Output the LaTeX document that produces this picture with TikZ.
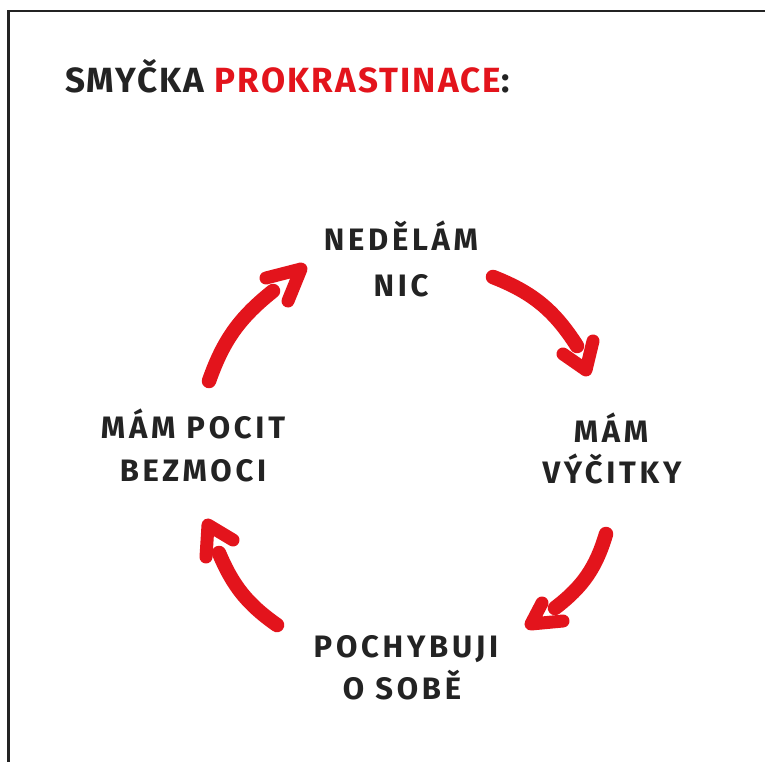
\documentclass[tikz,border=0pt]{standalone}
\usepackage{fontspec}
\newfontfamily\handfont[LetterSpace=12]{Fira Sans}
\newfontfamily\headfont[LetterSpace=6]{Fira Sans}
\definecolor{ink}{HTML}{232323}
\definecolor{loopred}{HTML}{E3141C}
\begin{document}
\begin{tikzpicture}[x=1pt,y=1pt,
  lbl/.style={anchor=base,inner sep=0pt,text=ink,font=\handfont\bfseries\fontsize{31}{31}\selectfont},
  ttl/.style={anchor=base west,inner sep=0pt,text=ink,font=\headfont\bfseries\fontsize{35}{35}\selectfont},
  shaft/.style={draw=loopred,line width=14.5pt,line cap=round},
  chev/.style={draw=loopred,line width=13pt,line cap=round,line join=round}]
\useasboundingbox (0,0) rectangle (765,-762);
\fill[white] (0,0) rectangle (765,-762);
% frame (only the top and left edges fall inside the sheet)
\draw[ink,line width=2.5pt] (765,-10.8) -- (8.7,-10.8) -- (8.7,-762);

% heading
\node[ttl] (title) at (65,-93) {SMYČKA \textcolor{loopred}{PROKRASTINACE}:};

% the four stages
\node[lbl] (n1a) at (401,-250) {NEDĚLÁM};
\node[lbl] (n1b) at (401,-296) {NIC};
\node[lbl] (n2a) at (611,-442) {MÁM};
\node[lbl] (n2b) at (612,-483) {VÝČITKY};
\node[lbl] (n3a) at (406,-657) {POCHYBUJI};
\node[lbl] (n3b) at (402,-699) {O SOBĚ};
\node[lbl] (n4a) at (193,-438) {MÁM POCIT};
\node[lbl] (n4b) at (193,-481) {BEZMOCI};

% arrow 1: top -> right
\coordinate (a1s) at (493,-277);
\coordinate (a1e) at (577,-346);
\coordinate (a1l) at (563,-354);
\coordinate (a1t) at (586,-370);
\coordinate (a1r) at (593,-341);
\draw[shaft] (a1s) to[bend left=18] (a1e);
\draw[chev] (a1l) -- (a1t) -- (a1r);

% arrow 2: right -> bottom
\coordinate (a2s) at (606,-534);
\coordinate (a2e) at (555,-608);
\coordinate (a2u) at (542,-603);
\coordinate (a2t) at (531,-624);
\coordinate (a2r) at (563,-621);
\draw[shaft] (a2s) to[bend left=18] (a2e);
\draw[chev] (a2u) -- (a2t) -- (a2r);

% arrow 3: bottom -> left
\coordinate (a3s) at (277,-625);
\coordinate (a3e) at (219,-553);
\coordinate (a3l) at (206,-557);
\coordinate (a3t) at (208,-525);
\coordinate (a3r) at (233,-540);
\draw[shaft] (a3s) to[bend left=16] (a3e);
\draw[chev] (a3l) -- (a3t) -- (a3r);

% arrow 4: left -> top
\coordinate (a4s) at (209,-381);
\coordinate (a4e) at (273,-291);
\coordinate (a4l) at (266,-278);
\coordinate (a4t) at (301,-269);
\coordinate (a4r) at (288,-301);
\draw[shaft] (a4s) to[bend left=16] (a4e);
\draw[chev] (a4l) -- (a4t) -- (a4r);
\end{tikzpicture}
\end{document}
